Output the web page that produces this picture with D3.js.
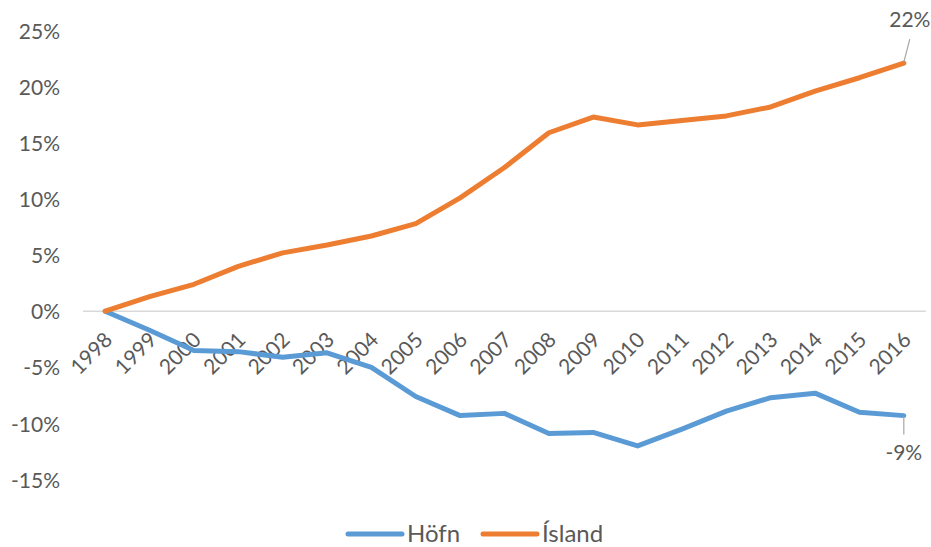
<!DOCTYPE html>
<html>
<head>
<meta charset="utf-8">
<script src="https://cdn.jsdelivr.net/npm/d3@7"></script>
<style>
  body { margin: 0; background: #fff; }
  svg text { font-family: Lato, "Open Sans", sans-serif; fill: #595959; }
</style>
</head>
<body>
<div id="chart"></div>
<script>
const years = ["1998","1999","2000","2001","2002","2003","2004","2005","2006","2007",
               "2008","2009","2010","2011","2012","2013","2014","2015","2016"];
const hofn = [0, -1.7, -3.5, -3.6, -4.1, -3.7, -5.0, -7.6, -9.3, -9.1,
              -10.9, -10.8, -12.0, -10.5, -8.9, -7.7, -7.3, -9.0, -9.3];
const island = [0, 1.3, 2.4, 4.0, 5.2, 5.9, 6.7, 7.8, 10.1, 12.8,
                15.9, 17.3, 16.6, 17.0, 17.4, 18.2, 19.6, 20.8, 22.1];
const yTicks = [-15, -10, -5, 0, 5, 10, 15, 20, 25];
const seriesNames = ["Höfn", "Ísland"];
const colors = ["#5B9BD5", "#ED7D31"];

let dim = { width: 931, height: 547 };

let svg = d3.select('#chart').append('svg')
    .attr('width', dim.width)
    .attr('height', dim.height);

let x = d3.scalePoint()
    .domain(years)
    .range([83, 926])
    .padding(0.5);

let y = d3.scaleLinear()
    .domain([-15, 25])
    .range([479.6, 30.6]);

// y axis labels only, no line
let axisY = d3.axisLeft(y)
    .tickValues(yTicks)
    .tickSize(0)
    .tickPadding(0)
    .tickFormat(d => d + '%');

svg.append('g')
    .attr('transform', 'translate(60,0)')
    .call(axisY)
    .call(g => g.select('.domain').remove())
    .selectAll('text')
    .attr('font-size', 21)
    .attr('dy', '0.36em');

// zero line
svg.append('line')
    .attr('x1', 83).attr('x2', 926)
    .attr('y1', y(0)).attr('y2', y(0))
    .attr('stroke', '#d9d9d9')
    .attr('stroke-width', 1.5);

// category axis at 0, rotated labels
let axisX = d3.axisBottom(x).tickSize(0).tickPadding(0);
svg.append('g')
    .attr('transform', `translate(0,${y(0)})`)
    .call(axisX)
    .call(g => g.select('.domain').remove())
    .selectAll('text')
    .attr('font-size', 21)
    .attr('text-anchor', 'end')
    .attr('dy', null)
    .attr('y', null)
    .attr('transform', 'translate(8,30) rotate(-45)');

let line = d3.line()
    .x((d, i) => x(years[i]))
    .y(d => y(d));

[hofn, island].forEach((s, i) => {
  svg.append('path')
    .datum(s)
    .attr('d', line)
    .attr('fill', 'none')
    .attr('stroke', colors[i])
    .attr('stroke-width', 5)
    .attr('stroke-linejoin', 'round')
    .attr('stroke-linecap', 'round');
});

// end labels with leader lines
let last = years[years.length - 1];
let lx = x(last);
let islEnd = island[island.length - 1];
let hofEnd = hofn[hofn.length - 1];

svg.append('line')
  .attr('x1', lx).attr('y1', y(islEnd) - 1)
  .attr('x2', lx + 6).attr('y2', y(islEnd) - 24)
  .attr('stroke', '#a6a6a6').attr('stroke-width', 1.2);
svg.append('text')
  .attr('x', lx + 6).attr('y', 27)
  .attr('text-anchor', 'middle')
  .attr('font-size', 21)
  .text(Math.round(islEnd) + '%');

svg.append('line')
  .attr('x1', lx).attr('y1', y(hofEnd) + 1)
  .attr('x2', lx).attr('y2', y(hofEnd) + 19)
  .attr('stroke', '#a6a6a6').attr('stroke-width', 1.2);
svg.append('text')
  .attr('x', lx).attr('y', 460)
  .attr('text-anchor', 'middle')
  .attr('font-size', 21)
  .text(Math.round(hofEnd) + '%');

// legend
let legend = svg.append('g');
let legX = [348, 483];
seriesNames.forEach((n, i) => {
  legend.append('line')
    .attr('x1', legX[i]).attr('x2', legX[i] + 54)
    .attr('y1', 534).attr('y2', 534)
    .attr('stroke', colors[i])
    .attr('stroke-width', 5)
    .attr('stroke-linecap', 'round');
  legend.append('text')
    .attr('x', legX[i] + 59).attr('y', 542)
    .attr('font-size', 24)
    .text(n);
});
</script>
</body>
</html>
